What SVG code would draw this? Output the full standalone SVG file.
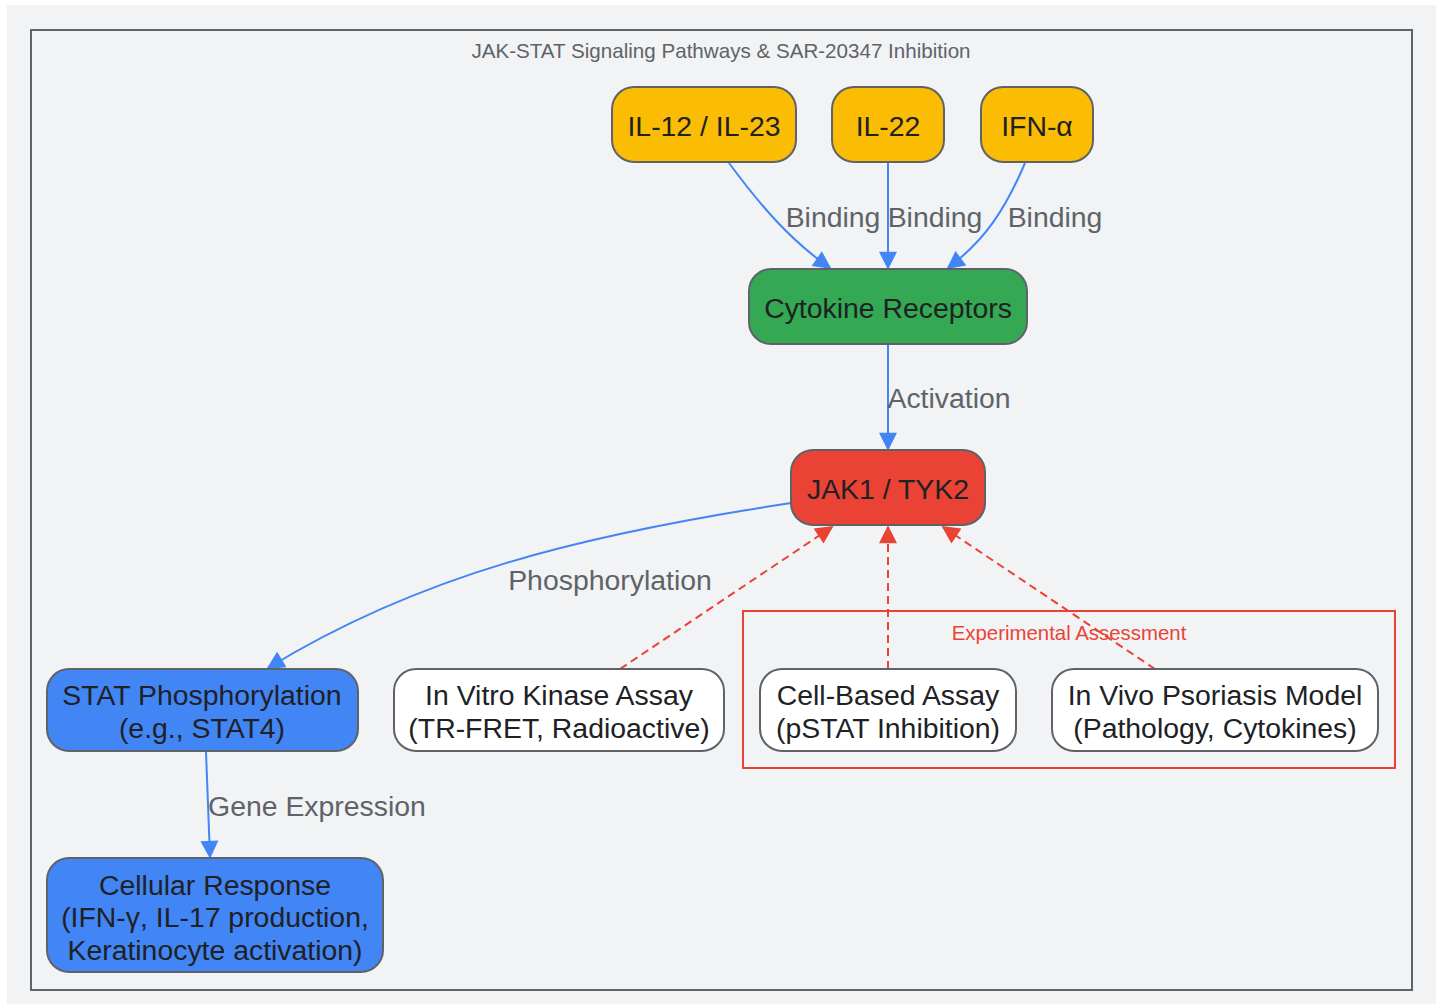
<svg xmlns="http://www.w3.org/2000/svg" width="1443" height="1006" viewBox="0 0 1443 1006">
<defs>
<marker id="ab" viewBox="0 0 10 10" markerWidth="22" markerHeight="18" refX="9" refY="5" orient="auto" markerUnits="userSpaceOnUse"><path d="M0,0 L10,5 L0,10 z" fill="#4285f4"/></marker>
<marker id="ar" viewBox="0 0 10 10" markerWidth="22" markerHeight="18" refX="9" refY="5" orient="auto" markerUnits="userSpaceOnUse"><path d="M0,0 L10,5 L0,10 z" fill="#ea4335"/></marker>
</defs>
<style>
text{font-family:"Liberation Sans",Arial,sans-serif}
.n{stroke:#5f6368;stroke-width:2}
.t{font-size:28.4px;fill:#202124;text-anchor:middle}
.l{font-size:28.4px;fill:#5f6368;text-anchor:middle}
.b{fill:none;stroke:#4285f4;stroke-width:2;marker-end:url(#ab)}
.r{fill:none;stroke:#ea4335;stroke-width:2;stroke-dasharray:8,5;marker-end:url(#ar)}
</style>
<rect x="0" y="0" width="1443" height="1006" fill="#ffffff"/>
<rect x="7" y="5" width="1429" height="999" fill="#f1f3f5"/>
<g id="cluster-main">
<rect x="31" y="30" width="1381" height="960" fill="#f1f3f5" stroke="#5f6368" stroke-width="2"/>
<text x="721" y="58" font-size="20.6" fill="#5f6368" text-anchor="middle">JAK-STAT Signaling Pathways &amp; SAR-20347 Inhibition</text>
</g>
<g id="cluster-exp">
<rect x="743" y="611" width="652" height="157" fill="none" stroke="#ea4335" stroke-width="2"/>
<text x="1069" y="640" font-size="20.4" fill="#ea4335" text-anchor="middle">Experimental Assessment</text>
</g>
<g id="connectors">
<path class="b" d="M729,163 C760,205 790,240 830,268"/>
<path class="b" d="M888,163 L888,268"/>
<path class="b" d="M1025,163 C1005,210 985,240 948,268"/>
<path class="b" d="M888,345 L888,449"/>
<path class="b" d="M791,503 C580,535 420,575 268,668"/>
<path class="b" d="M206,752 L210,857"/>
<path class="r" d="M620,669 L832,527"/>
<path class="r" d="M888,669 L888,527"/>
<path class="r" d="M1155,669 L943,527"/>
<text class="l" x="833" y="227">Binding</text>
<text class="l" x="935" y="227">Binding</text>
<text class="l" x="1055" y="227">Binding</text>
<text class="l" x="949" y="408">Activation</text>
<text class="l" x="610" y="590">Phosphorylation</text>
<text class="l" x="317" y="816">Gene Expression</text>
</g>
<g id="il12"><rect class="n" x="612" y="87" width="184" height="75" rx="22" fill="#fbbc04"/><text class="t" x="704" y="136">IL-12 / IL-23</text></g>
<g id="il22"><rect class="n" x="832" y="87" width="112" height="75" rx="22" fill="#fbbc04"/><text class="t" x="888" y="136">IL-22</text></g>
<g id="ifna"><rect class="n" x="981" y="87" width="112" height="75" rx="22" fill="#fbbc04"/><text class="t" x="1037" y="136">IFN-α</text></g>
<g id="receptors"><rect class="n" x="749" y="269" width="278" height="75" rx="22" fill="#34a853"/><text class="t" x="888" y="318">Cytokine Receptors</text></g>
<g id="jak"><rect class="n" x="791" y="450" width="194" height="75" rx="22" fill="#ea4335"/><text class="t" x="888" y="499">JAK1 / TYK2</text></g>
<g id="stat"><rect class="n" x="47" y="669" width="311" height="82" rx="22" fill="#4285f4"/><text class="t" x="202" y="705">STAT Phosphorylation</text><text class="t" x="202" y="738">(e.g., STAT4)</text></g>
<g id="invitro"><rect class="n" x="394" y="669" width="330" height="82" rx="22" fill="#ffffff"/><text class="t" x="559" y="705">In Vitro Kinase Assay</text><text class="t" x="559" y="738">(TR-FRET, Radioactive)</text></g>
<g id="cellbased"><rect class="n" x="760" y="669" width="256" height="82" rx="22" fill="#ffffff"/><text class="t" x="888" y="705">Cell-Based Assay</text><text class="t" x="888" y="738">(pSTAT Inhibition)</text></g>
<g id="invivo"><rect class="n" x="1052" y="669" width="326" height="82" rx="22" fill="#ffffff"/><text class="t" x="1215" y="705">In Vivo Psoriasis Model</text><text class="t" x="1215" y="738">(Pathology, Cytokines)</text></g>
<g id="cellular"><rect class="n" x="47" y="858" width="336" height="114" rx="22" fill="#4285f4"/><text class="t" x="215" y="895">Cellular Response</text><text class="t" x="215" y="927">(IFN-γ, IL-17 production,</text><text class="t" x="215" y="960">Keratinocyte activation)</text></g>
</svg>
